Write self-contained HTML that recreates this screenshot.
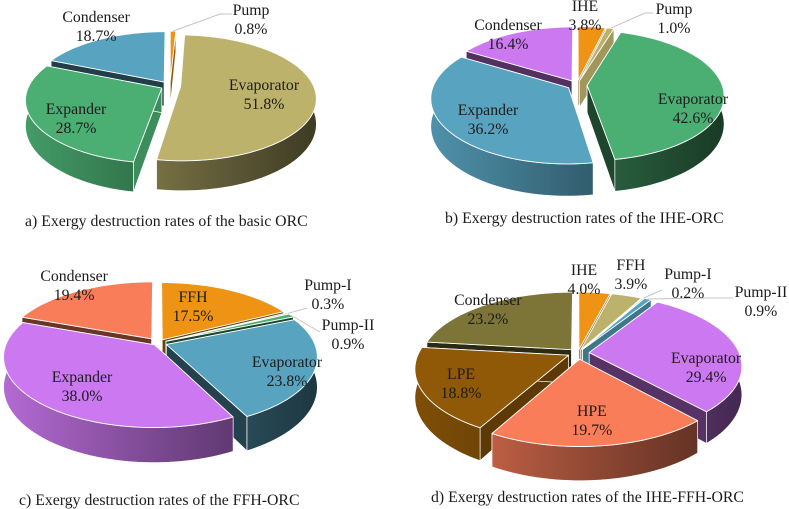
<!DOCTYPE html>
<html lang="en">
<head>
<meta charset="utf-8">
<title>Exergy destruction rates</title>
<style>
html,body{margin:0;padding:0;background:#fff;width:789px;height:509px;overflow:hidden}
svg{display:block}
text{font-family:"Liberation Serif",serif;font-size:15.8px;fill:#1c1c1c}
</style>
</head>
<body>
<svg id="fig" xmlns="http://www.w3.org/2000/svg" width="789" height="509" viewBox="0 0 789 509">
  <rect width="789" height="509" fill="#fff"/>
  <defs id="defs"></defs>
  <text x="25" y="226">a) Exergy destruction rates of the basic ORC</text>
  <text x="445" y="223">b) Exergy destruction rates of the IHE-ORC</text>
  <text x="19" y="505">c) Exergy destruction rates of the FFH-ORC</text>
  <text x="431" y="502">d) Exergy destruction rates of the IHE-FFH-ORC</text>
</svg>
<script>
/* ---------- data ---------- */
const categoriesA = ["Pump", "Evaporator", "Expander", "Condenser"];
const valuesA = [0.8, 51.8, 28.7, 18.7];

const categoriesB = ["IHE", "Pump", "Evaporator", "Expander", "Condenser"];
const valuesB = [3.8, 1.0, 42.6, 36.2, 16.4];

const categoriesC = ["FFH", "Pump-I", "Pump-II", "Evaporator", "Expander", "Condenser"];
const valuesC = [17.5, 0.3, 0.9, 23.8, 38.0, 19.4];

const categoriesD = ["IHE", "FFH", "Pump-I", "Pump-II", "Evaporator", "HPE", "LPE", "Condenser"];
const valuesD = [4.0, 3.9, 0.2, 0.9, 29.4, 19.7, 18.8, 23.2];

/* ---------- palette ---------- */
const ORANGE = "#ee9314", TAN = "#bdb26c", GREEN = "#4baf73", BLUE = "#58a4c0",
      PURPLE = "#cc78f0", CORAL = "#fa7d5a", BROWN = "#8f5908", OLIVE = "#7d7438";

/* ---------- layout (geometry and styling, separate from the data) ---------- */
const layoutA = {
  id: "a", categories: categoriesA, values: valuesA,
  cx: 170, cy: 86, rx: 133, ry: 60.7, k: 0.18, depth: 24.5,
  colors: [ORANGE, TAN, GREEN, BLUE],
  explode: [0.08, 0.08, 0.07, 0.08],
  cutShade: [0.6, 0.5, 0.8, 0.38],
  nudge: [[79, -29.6], [14.7, 5.1], [-24.2, 15.3], [-29.7, -28.7]],
  leaders: [[0, [[-31, -6], [-19, -6]]]]
};
const layoutB = {
  id: "b", categories: categoriesB, values: valuesB,
  cx: 577, cy: 85, rx: 135, ry: 63.5, k: 0.155, depth: 27,
  colors: [ORANGE, TAN, GREEN, BLUE, PURPLE],
  explode: [0.075, 0.075, 0.075, 0.075, 0.075],
  cutShade: [0.6, 0.85, 0.4, 0.6, 0.4],
  nudge: [[-1.6, -31.2], [75.4, -29.3], [35.2, 21.3], [-22, 13.6], [-29.1, -16.9]],
  leaders: [[1, [[-29, -6], [-21, -6]]]]
};
const layoutC = {
  id: "c", categories: categoriesC, values: valuesC,
  cx: 158, cy: 343, rx: 148, ry: 68, k: 0.17, depth: 29,
  colors: [ORANGE, TAN, GREEN, BLUE, PURPLE, CORAL],
  explode: [0.055, 0.06, 0.06, 0.06, 0.035, 0.075],
  cutShade: [0.45, 0.5, 0.4, 0.4, 0.5, 0.42],
  nudge: [[-11.4, -1.2], [90.4, -29.8], [109, 8.7], [45.7, 14.9], [-17, 13.5], [-33, -23.6]],
  leaders: [[1, [[-21, 13]]], [2, [[-28, -3]]]]
};
const layoutD = {
  id: "d", categories: categoriesD, values: valuesD,
  cx: 578, cy: 353, rx: 150, ry: 69, k: 0.18, depth: 27.5,
  colors: [ORANGE, TAN, GREEN, BLUE, PURPLE, CORAL, BROWN, OLIVE],
  explode: [0.05, 0.05, 0.06, 0.06, 0.075, 0.09, 0.07, 0.065],
  cutShade: [0.6, 0.7, 0.6, 0.72, 0.42, 0.5, 0.65, 0.35],
  nudge: [[-5.3, -31.9], [20.1, -39.5], [66.6, -32.7], [136.9, -15.4], [38.4, 18.5], [3.8, 26.8], [-37, 12.1], [-30.2, -12.1]],
  leaders: [[2, [[-26, 6]]], [3, [[-53, -4], [-28, -4]]]]
};

/* ---------- helpers ---------- */
const NS = "http://www.w3.org/2000/svg";
const svg = document.getElementById("fig");
const defs = document.getElementById("defs");
const RAD = Math.PI / 180;

function make(tag, attrs, parent) {
  const el = document.createElementNS(NS, tag);
  for (const key in attrs) el.setAttribute(key, attrs[key]);
  parent.appendChild(el);
  return el;
}
function shade(hex, f) {
  const n = parseInt(hex.slice(1), 16);
  const c = [n >> 16, (n >> 8) & 255, n & 255].map(function (v) { return Math.round(v * f); });
  return "rgb(" + c.join(",") + ")";
}
function slug(s) {
  return s.toLowerCase().replace(/[^a-z0-9]+/g, "-");
}
function pathOf(points) {
  return "M" + points.map(function (p) { return p[0].toFixed(2) + " " + p[1].toFixed(2); }).join("L") + "Z";
}

/* ---------- pie renderer ---------- */
function drawPie(cfg) {
  const group = make("g", {}, svg);
  
  

  const total = cfg.values.reduce(function (a, b) { return a + b; }, 0);

  /* perspective projection of unit-disc coordinates */
  function project(X, Z, drop) {
    const s = 1 / (1 + cfg.k * Z);
    return [cfg.cx + cfg.rx * X * s, cfg.cy - cfg.ry * Z * s + (drop ? cfg.depth * s : 0)];
  }

  let running = 0;
  const slices = cfg.values.map(function (value, i) {
    const a0 = running / total * 360;
    running += value;
    const a1 = running / total * 360;
    const mid = (a0 + a1) / 2;
    return {
      i: i, value: value, a0: a0, a1: a1, mid: mid,
      ox: cfg.explode[i] * Math.sin(mid * RAD),
      oz: cfg.explode[i] * Math.cos(mid * RAD)
    };
  });

  function rim(sl, deg, drop) {
    return project(sl.ox + Math.sin(deg * RAD), sl.oz + Math.cos(deg * RAD), drop);
  }
  function arcAngles(from, to) {
    const out = [];
    const steps = Math.max(1, Math.ceil((to - from) / 2));
    for (let j = 0; j <= steps; j++) out.push(from + (to - from) * j / steps);
    return out;
  }

  /* back-to-front so nearer slices overlap farther ones */
  const order = slices.slice().sort(function (p, q) {
    return Math.cos(q.mid * RAD) - Math.cos(p.mid * RAD);
  });

  order.forEach(function (sl) {
    const name = slug(cfg.categories[sl.i]);
    const color = cfg.colors[sl.i];
    const sliceGroup = make("g", {}, group);
    
    

    const apexTop = project(sl.ox, sl.oz, false);
    const apexBot = project(sl.ox, sl.oz, true);

    /* cut walls */
    [sl.a0, sl.a1].forEach(function (deg, w) {
      const cut = make("path", {
        d: pathOf([apexTop, rim(sl, deg, false), rim(sl, deg, true), apexBot]),
        fill: shade(color, cfg.cutShade[sl.i]),
        stroke: "#fff", "stroke-width": 0.7, "stroke-linejoin": "round"
      }, sliceGroup);
      
      
    });

    /* outer wall (front half only) */
    const from = Math.max(sl.a0, 85), to = Math.min(sl.a1, 275);
    if (to > from) {
      const gradId = "wall-" + cfg.id + "-" + sl.i;
      const grad = make("linearGradient", {
        id: gradId, gradientUnits: "userSpaceOnUse",
        x1: cfg.cx - cfg.rx * 1.05, x2: cfg.cx + cfg.rx * 1.05, y1: 0, y2: 0
      }, defs);
      make("stop", { offset: "0", "stop-color": shade(color, 0.88) }, grad);
      make("stop", { offset: "0.5", "stop-color": shade(color, 0.6) }, grad);
      make("stop", { offset: "1", "stop-color": shade(color, 0.34) }, grad);
      const angles = arcAngles(from, to);
      const pts = angles.map(function (d) { return rim(sl, d, false); })
        .concat(angles.slice().reverse().map(function (d) { return rim(sl, d, true); }));
      const wall = make("path", {
        d: pathOf(pts), fill: "url(#" + gradId + ")",
        stroke: "#fff", "stroke-width": 0.7, "stroke-linejoin": "round"
      }, sliceGroup);
      
      
    }

    /* top face */
    const topPts = [apexTop].concat(arcAngles(sl.a0, sl.a1).map(function (d) { return rim(sl, d, false); }));
    const top = make("path", {
      d: pathOf(topPts), fill: color,
      stroke: "#fff", "stroke-width": 0.9, "stroke-linejoin": "round"
    }, sliceGroup);
    
    
  });

  /* label position follows each slice's mid angle */
  function labelPos(sl) {
    return [
      cfg.cx + 0.6 * cfg.rx * Math.sin(sl.mid * RAD) + cfg.nudge[sl.i][0],
      cfg.cy - 0.6 * cfg.ry * Math.cos(sl.mid * RAD) + cfg.nudge[sl.i][1]
    ];
  }

  /* leader lines */
  cfg.leaders.forEach(function (leader) {
    const sl = slices[leader[0]];
    const pos = labelPos(sl);
    const start = rim(sl, sl.mid, false);
    const pts = [start].concat(leader[1].map(function (o) { return [pos[0] + o[0], pos[1] + o[1]]; }));
    const line = make("polyline", {
      points: pts.map(function (p) { return p[0].toFixed(1) + "," + p[1].toFixed(1); }).join(" "),
      fill: "none", stroke: "#c4c4c4", "stroke-width": 1
    }, group);
    
    
  });

  /* labels */
  slices.forEach(function (sl) {
    const pos = labelPos(sl);
    const label = make("text", { "text-anchor": "middle" }, group);
    
    
    const nameLine = make("tspan", { x: pos[0].toFixed(1), y: (pos[1] - 5).toFixed(1) }, label);
    nameLine.textContent = cfg.categories[sl.i];
    const valueLine = make("tspan", { x: pos[0].toFixed(1), y: (pos[1] + 14).toFixed(1) }, label);
    valueLine.textContent = sl.value.toFixed(1) + "%";
  });
}

[layoutA, layoutB, layoutC, layoutD].forEach(drawPie);
</script>
</body>
</html>
